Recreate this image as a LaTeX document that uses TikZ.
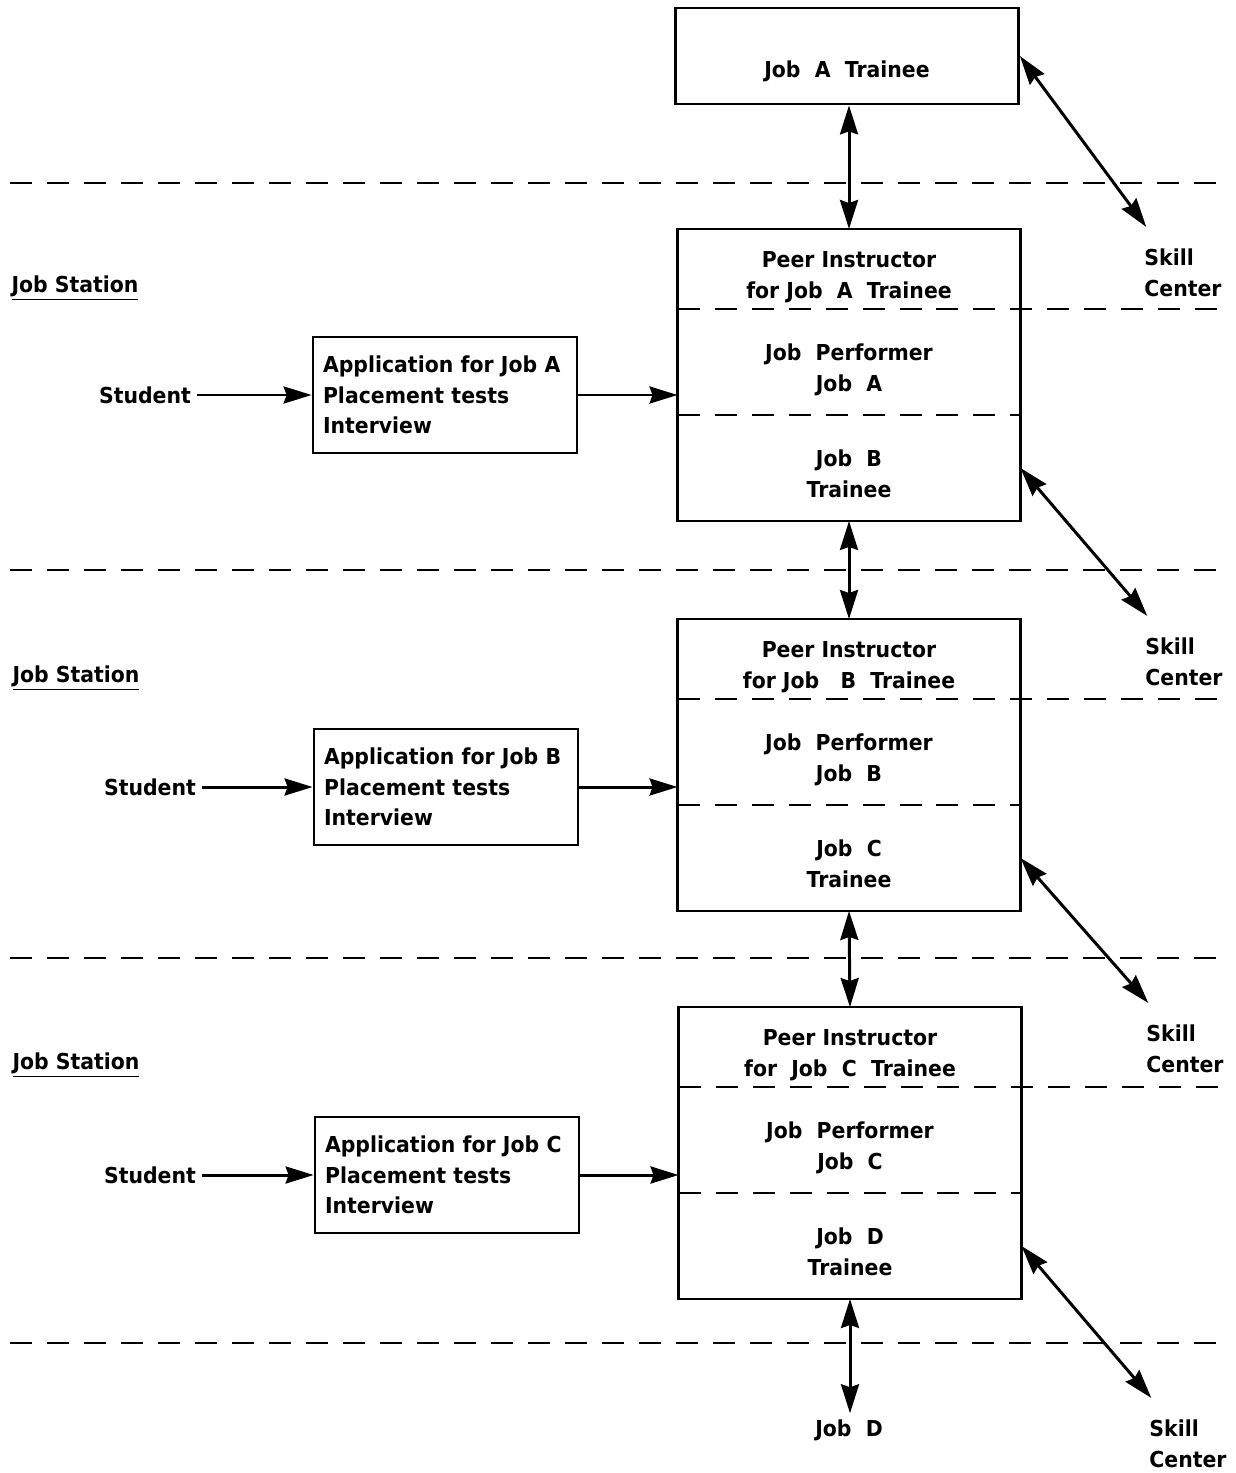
\documentclass[tikz,border=0pt]{standalone}
\usepackage{fontspec}
\setmainfont{DejaVu Sans}[FakeStretch=0.93]
\usetikzlibrary{calc, positioning, arrows.meta}

\tikzset{
  every node/.style={font=\bfseries\fontsize{12.5}{17.5}\selectfont},
  jobbox/.style={draw, line width=1.6pt, minimum width=6.86cm, minimum height=1.92cm},
  jobpart/.style={minimum width=6.86cm, inner sep=0pt, outer sep=0pt, align=center,
    text height=1.18cm, text depth=0pt},
  frame/.style={line width=1.6pt},
  applbox/.style={draw, line width=1.6pt, text width=4.88cm, inner sep=0.2cm,
    minimum height=2.32cm, align=left},
  sepline/.style={line width=1.1pt, dash pattern=on 0.44cm off 0.3cm},
  twoway/.style={line width=1.7pt,
    {Stealth[length=0.58cm,width=0.36cm,inset=0.06cm]}-{Stealth[length=0.58cm,width=0.36cm,inset=0.06cm]}},
  oneway/.style={line width=1.7pt,
    -{Stealth[length=0.56cm,width=0.34cm,inset=0.06cm]}}
}

\begin{document}
\begin{tikzpicture}[x=0.02cm, y=-0.02cm]
  \useasboundingbox (0,0) rectangle (1235,1473);
  \coordinate (redge) at (1225,0);

  % Levels separated by dashed lines
  \draw [sepline] (10,183) -- (1225,183);
  \draw [sepline] (10,570) -- (1225,570);
  \draw [sepline] (10,958) -- (1225,958);
  \draw [sepline] (10,1343) -- (1225,1343);

  % Top: trainee for job A
  \node [jobbox, text height=0.85cm, text depth=0pt] (ata) at (847,56)
    {Job~~A~~Trainee};

  % First job station
  \node [jobpart, minimum height=1.6cm] (pia) at (849,269)
    {Peer Instructor\\for Job~~A~~Trainee};
  \node [jobpart, minimum height=2.12cm, below=0pt of pia] (jpa)
    {Job~~Performer\\Job~~A};
  \node [jobpart, minimum height=2.12cm, below=0pt of jpa] (btr)
    {Job~~B\\Trainee};
  \draw [frame] (pia.north west) rectangle (btr.south east);
  \draw [sepline] (pia.south west) -- (pia.south west -| redge);
  \draw [sepline] (jpa.south west) -- (jpa.south east);

  \node (jsa) at (75,288) {\underline{Job Station}};
  \node (sta) at (145,395) {Student};
  \node [applbox] (apa) at (445,395)
    {Application for Job A\\Placement tests\\Interview};
  \node [align=left] (ska) at (1183,273) {Skill\\Center};

  % Second job station
  \node [jobpart, minimum height=1.6cm] (pib) at (849,659)
    {Peer Instructor\\for Job~~~B~~Trainee};
  \node [jobpart, minimum height=2.12cm, below=0pt of pib] (jpb)
    {Job~~Performer\\Job~~B};
  \node [jobpart, minimum height=2.12cm, below=0pt of jpb] (ctr)
    {Job~~C\\Trainee};
  \draw [frame] (pib.north west) rectangle (ctr.south east);
  \draw [sepline] (pib.south west) -- (pib.south west -| redge);
  \draw [sepline] (jpb.south west) -- (jpb.south east);

  \node (jsb) at (76,678) {\underline{Job Station}};
  \node (stb) at (150,787) {Student};
  \node [applbox] (apb) at (446,787)
    {Application for Job B\\Placement tests\\Interview};
  \node [align=left] (skb) at (1184,662) {Skill\\Center};

  % Third job station
  \node [jobpart, minimum height=1.6cm] (pic) at (850,1047)
    {Peer Instructor\\for~~Job~~C~~Trainee};
  \node [jobpart, minimum height=2.12cm, below=0pt of pic] (jpc)
    {Job~~Performer\\Job~~C};
  \node [jobpart, minimum height=2.12cm, below=0pt of jpc] (dtr)
    {Job~~D\\Trainee};
  \draw [frame] (pic.north west) rectangle (dtr.south east);
  \draw [sepline] (pic.south west) -- (pic.south west -| redge);
  \draw [sepline] (jpc.south west) -- (jpc.south east);

  \node (jsc) at (76,1065) {\underline{Job Station}};
  \node (stc) at (150,1175) {Student};
  \node [applbox] (apc) at (447,1175)
    {Application for Job C\\Placement tests\\Interview};
  \node [align=left] (skc) at (1185,1049) {Skill\\Center};

  % Bottom: job D
  \node (jbd) at (849,1430) {Job~~D};
  \node [align=left] (skd) at (1188,1444) {Skill\\Center};

  % Flow of students into the stations
  \draw [oneway] (sta) -- (apa);
  \draw [oneway] (apa.east) -- (apa.east -| jpa.west);
  \draw [oneway] (stb) -- (apb);
  \draw [oneway] (apb.east) -- (apb.east -| jpb.west);
  \draw [oneway] (stc) -- (apc);
  \draw [oneway] (apc.east) -- (apc.east -| jpc.west);

  % Links between levels
  \draw [twoway] (ata.south -| pia.north) -- (pia.north);
  \draw [twoway] (btr.south) -- (pib.north);
  \draw [twoway] (ctr.south) -- (pic.north);
  \draw [twoway] (dtr.south) -- (dtr.south |- jbd.north);

  % Links to the skill centers
  \draw [twoway] (ata.east) -- ([shift={(8,-16)}]ska.north west);
  \draw [twoway] (btr.east) -- ([shift={(8,-16)}]skb.north west);
  \draw [twoway] (ctr.east) -- ([shift={(8,-16)}]skc.north west);
  \draw [twoway] (dtr.east) -- ([shift={(8,-16)}]skd.north west);
\end{tikzpicture}
\end{document}
